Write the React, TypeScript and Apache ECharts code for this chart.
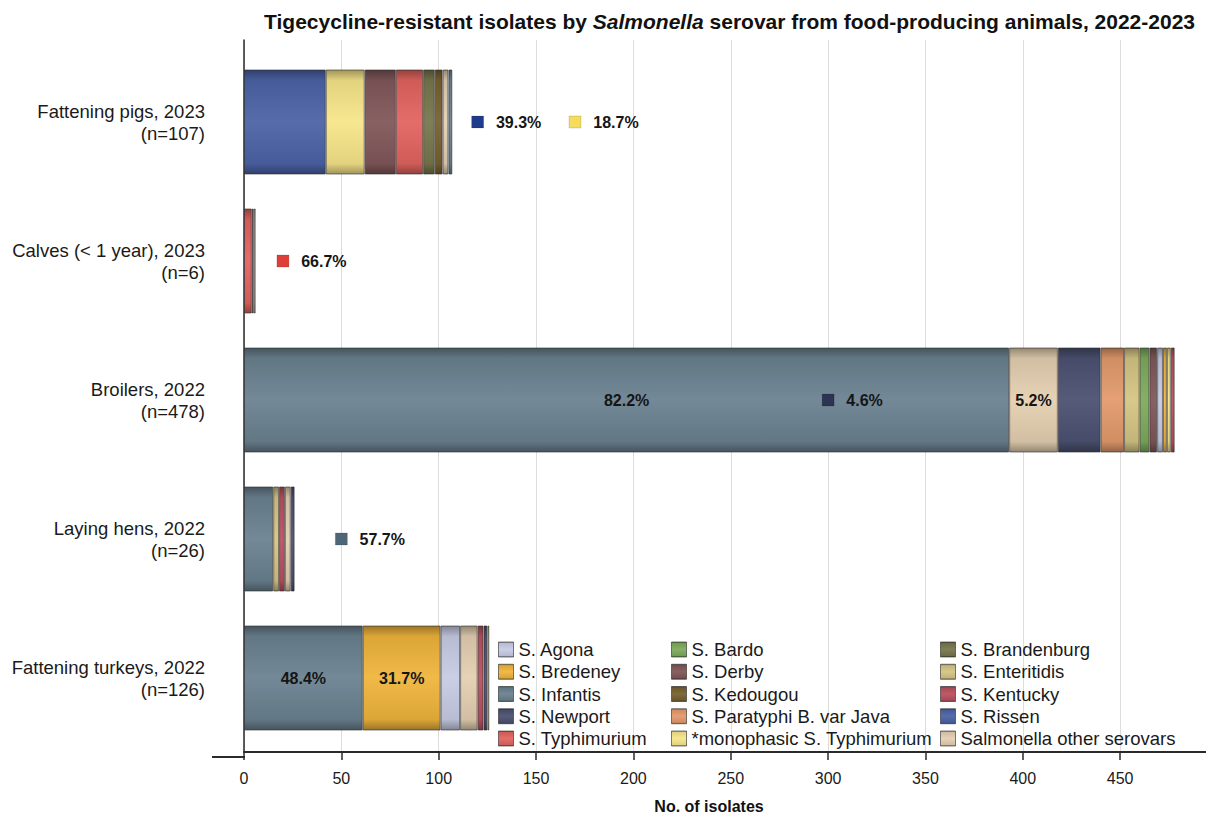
import React, { useEffect, useRef } from "react";
import * as echarts from "echarts";

// ---------------- data ----------------
const categoryNames = [
  "Fattening pigs, 2023",
  "Calves (< 1 year), 2023",
  "Broilers, 2022",
  "Laying hens, 2022",
  "Fattening turkeys, 2022",
];

// segments in drawing order (left to right), [serovar, count]
const pigsSegments: [string, number][] = [
  ["S. Rissen", 42],
  ["*monophasic S. Typhimurium", 20],
  ["S. Derby", 16],
  ["S. Typhimurium", 14],
  ["S. Brandenburg", 6],
  ["S. Kedougou", 4],
  ["Salmonella other serovars", 3],
  ["S. Infantis", 2],
];
const calvesSegments: [string, number][] = [
  ["S. Typhimurium", 4],
  ["S. Newport", 1],
  ["Salmonella other serovars", 1],
];
const broilersSegments: [string, number][] = [
  ["S. Infantis", 393],
  ["Salmonella other serovars", 25],
  ["S. Newport", 22],
  ["S. Paratyphi B. var Java", 12],
  ["S. Enteritidis", 8],
  ["S. Bardo", 5],
  ["S. Derby", 4],
  ["S. Agona", 3],
  ["S. Bredeney", 2],
  ["*monophasic S. Typhimurium", 2],
  ["S. Kentucky", 2],
];
const hensSegments: [string, number][] = [
  ["S. Infantis", 15],
  ["S. Enteritidis", 3],
  ["S. Kentucky", 3],
  ["Salmonella other serovars", 3],
  ["S. Newport", 2],
];
const turkeysSegments: [string, number][] = [
  ["S. Infantis", 61],
  ["S. Bredeney", 40],
  ["S. Agona", 10],
  ["Salmonella other serovars", 9],
  ["S. Kentucky", 3],
  ["S. Newport", 2],
  ["S. Enteritidis", 1],
];
const segmentsByCategory = [pigsSegments, calvesSegments, broilersSegments, hensSegments, turkeysSegments];

// legend columns
const legendCol1 = ["S. Agona", "S. Bredeney", "S. Infantis", "S. Newport", "S. Typhimurium"];
const legendCol2 = ["S. Bardo", "S. Derby", "S. Kedougou", "S. Paratyphi B. var Java", "*monophasic S. Typhimurium"];
const legendCol3 = ["S. Brandenburg", "S. Enteritidis", "S. Kentucky", "S. Rissen", "Salmonella other serovars"];

// percentage annotations: marker placed at x value, next to the bar
const markerNotes = [
  { cat: 0, serovar: "S. Rissen", x: 120 },
  { cat: 0, serovar: "*monophasic S. Typhimurium", x: 170 },
  { cat: 1, serovar: "S. Typhimurium", x: 20 },
  { cat: 2, serovar: "S. Newport", x: 300 },
  { cat: 3, serovar: "S. Infantis", x: 50 },
];
// percentage annotations written inside the segment
const insideNotes = [
  { cat: 2, serovar: "S. Infantis" },
  { cat: 2, serovar: "Salmonella other serovars" },
  { cat: 4, serovar: "S. Infantis" },
  { cat: 4, serovar: "S. Bredeney" },
];

const xTickValues = [0, 50, 100, 150, 200, 250, 300, 350, 400, 450];

// ---------------- styles ----------------
const serovarColors: Record<string, string> = {
  "S. Agona": "#c7cce4",
  "S. Bardo": "#7dab5c",
  "S. Brandenburg": "#76774c",
  "S. Bredeney": "#efb43c",
  "S. Derby": "#805759",
  "S. Enteritidis": "#d4c484",
  "S. Infantis": "#6b8190",
  "S. Kedougou": "#766130",
  "S. Kentucky": "#b9505f",
  "S. Newport": "#4b5171",
  "S. Paratyphi B. var Java": "#e39a6c",
  "S. Rissen": "#4c63a6",
  "S. Typhimurium": "#e2645f",
  "*monophasic S. Typhimurium": "#f7e58a",
  "Salmonella other serovars": "#e4d0b1",
};
const markerColors: Record<string, string> = {
  "S. Rissen": "#1f3b8c",
  "*monophasic S. Typhimurium": "#f6dc5c",
  "S. Typhimurium": "#dc4038",
  "S. Newport": "#2d3452",
  "S. Infantis": "#4f6677",
};

const FONT = "'Liberation Sans', Arial, sans-serif";

function hexToRgb(h: string) {
  const v = parseInt(h.slice(1), 16);
  return [(v >> 16) & 255, (v >> 8) & 255, v & 255];
}
function mix(h: string, target: number, amt: number) {
  const [r, g, b] = hexToRgb(h);
  const f = (c: number) => Math.round(c + (target - c) * amt);
  return `rgb(${f(r)},${f(g)},${f(b)})`;
}
function barFill(c: string) {
  return new echarts.graphic.LinearGradient(0, 0, 0, 1, [
    { offset: 0, color: mix(c, 0, 0.35) },
    { offset: 0.1, color: mix(c, 0, 0.08) },
    { offset: 0.5, color: mix(c, 255, 0.06) },
    { offset: 0.9, color: mix(c, 0, 0.08) },
    { offset: 1, color: mix(c, 0, 0.35) },
  ]);
}

// chart canvas is wider than the visible page so that 500 falls just beyond the right edge
const CHART_W = 1218;
const CHART_H = 819;

export default function App() {
  const ref = useRef<HTMLDivElement>(null);

  useEffect(() => {
    if (!ref.current) return;
    const chart = echarts.init(ref.current, undefined, { renderer: "svg" });

    const totals = segmentsByCategory.map((segs) => segs.reduce((s, [, v]) => s + v, 0));
    const categories = categoryNames.map((n, i) => `${n}\n(n=${totals[i]})`);
    const pct = (cat: number, serovar: string) => {
      const seg = segmentsByCategory[cat].find(([s]) => s === serovar);
      return ((seg ? seg[1] : 0) / totals[cat] * 100).toFixed(1) + "%";
    };

    const series: any[] = [];
    segmentsByCategory.forEach((segs, ci) => {
      segs.forEach(([serovar, count]) => {
        const inside = insideNotes.find((n) => n.cat === ci && n.serovar === serovar);
        series.push({
          name: serovar,
          type: "bar",
          stack: "total",
          xAxisIndex: 0,
          yAxisIndex: 0,
          barWidth: 105,
          data: categories.map((_, k) => (k === ci ? count : "-")),
          itemStyle: {
            color: barFill(serovarColors[serovar]),
            borderColor: "rgba(45,45,45,0.6)",
            borderWidth: 1,
          },
          label: inside
            ? {
                show: true,
                position: "inside",
                formatter: pct(ci, serovar),
                fontFamily: FONT,
                fontWeight: "bold",
                fontSize: 16,
                color: "#151515",
              }
            : { show: false },
          emphasis: { disabled: true },
        });
      });
    });

    series.push({
      name: "markers",
      type: "scatter",
      xAxisIndex: 0,
      yAxisIndex: 0,
      symbol: "rect",
      symbolSize: 12,
      z: 5,
      itemStyle: { opacity: 1 },
      data: markerNotes.map((m) => ({
        value: [m.x, m.cat],
        itemStyle: { color: markerColors[m.serovar], opacity: 1, borderColor: "rgba(0,0,0,0.25)", borderWidth: 0.5 },
        label: {
          show: true,
          position: "right",
          distance: 12,
          formatter: pct(m.cat, m.serovar),
          fontFamily: FONT,
          fontWeight: "bold",
          fontSize: 16,
          color: "#151515",
        },
      })),
    });

    const legendBase = {
      orient: "vertical",
      icon: "rect",
      itemWidth: 15,
      itemHeight: 15,
      itemGap: 3.25,
      top: 635,
      textStyle: { fontFamily: FONT, fontSize: 18.5, color: "#1a1a1a", lineHeight: 18.5 },
      itemStyle: { borderColor: "rgba(40,40,40,0.6)", borderWidth: 1 },
      selectedMode: false,
    };

    const option: any = {
      animation: false,
      backgroundColor: "#ffffff",
      textStyle: { fontFamily: FONT },
      title: {
        text: "{a|Tigecycline-resistant isolates by }{b|Salmonella}{a| serovar from food-producing animals, 2022-2023}",
        right: 18,
        top: 6,
        textStyle: {
          rich: {
            a: { fontFamily: FONT, fontWeight: "bold", fontSize: 21, color: "#111" },
            b: { fontFamily: FONT, fontWeight: "bold", fontStyle: "italic", fontSize: 21, color: "#111" },
          },
        },
      },
      legend: [
        { ...legendBase, left: 493, data: legendCol1 },
        { ...legendBase, left: 666, data: legendCol2 },
        { ...legendBase, left: 935, data: legendCol3 },
      ],
      grid: [
        { left: 244, right: 0.5, top: 52.5, bottom: 71.5 },
        { left: 244, right: 0.5, top: 40, bottom: 62 },
      ],
      xAxis: [
        {
          gridIndex: 0,
          type: "value",
          min: 0,
          max: 500,
          interval: 50,
          show: false,
          splitLine: { show: false },
        },
        {
          gridIndex: 1,
          type: "value",
          min: 0,
          max: 500,
          interval: 50,
          axisLine: { show: true, onZero: false, lineStyle: { color: "#2a2a2a", width: 2 } },
          axisTick: { show: true, length: 8, lineStyle: { color: "#2a2a2a", width: 1.5 } },
          axisLabel: {
            margin: 18,
            fontSize: 16,
            color: "#1a1a1a",
            fontFamily: FONT,
            showMaxLabel: false,
            formatter: (v: number) => (xTickValues.includes(v) ? String(v) : ""),
          },
          splitLine: { show: true, lineStyle: { color: "#dcdcdc", width: 1 } },
          name: "No. of isolates",
          nameLocation: "middle",
          nameGap: 46,
          nameTextStyle: {
            fontFamily: FONT,
            fontWeight: "bold",
            fontSize: 16,
            color: "#111",
            padding: [0, 43.5, 0, 0],
          },
        },
      ],
      yAxis: [
        {
          gridIndex: 0,
          type: "category",
          data: categories,
          inverse: true,
          axisLine: { show: false },
          axisTick: { show: false },
          axisLabel: {
            margin: 39,
            fontSize: 18.5,
            lineHeight: 22,
            color: "#1a1a1a",
            fontFamily: FONT,
          },
        },
        {
          gridIndex: 1,
          type: "value",
          min: 0,
          max: 1,
          axisLine: { show: true, onZero: false, lineStyle: { color: "#2a2a2a", width: 1.5 } },
          axisTick: { show: false },
          axisLabel: { show: false },
          splitLine: { show: false },
        },
      ],
      graphic: [
        {
          type: "line",
          shape: { x1: 212, y1: 757, x2: 245, y2: 757 },
          style: { stroke: "#2a2a2a", lineWidth: 2 },
          silent: true,
        },
      ],
      series,
    };

    chart.setOption(option);
    return () => chart.dispose();
  }, []);

  return (
    <div
      style={{
        position: "fixed",
        left: 0,
        top: 0,
        width: 1206,
        height: CHART_H,
        overflow: "hidden",
        background: "#fff",
      }}
    >
      <div ref={ref} style={{ width: CHART_W, height: CHART_H }} />
    </div>
  );
}
